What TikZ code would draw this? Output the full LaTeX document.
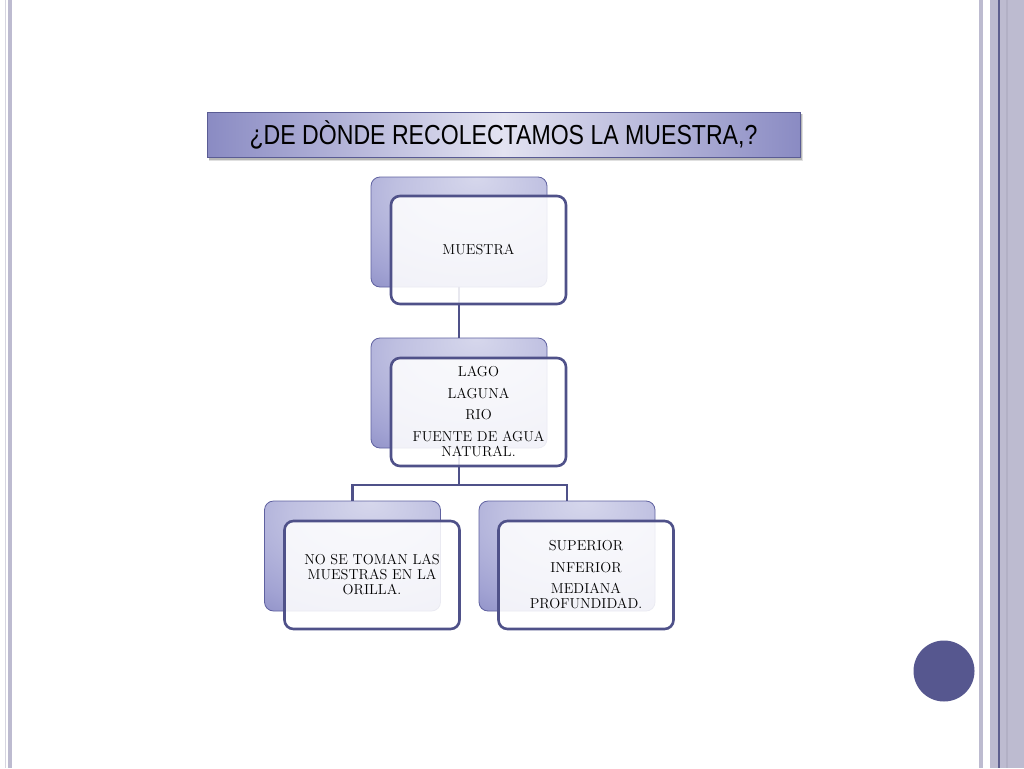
\documentclass[tikz,border=0pt]{standalone}
\usepackage{fontspec}
\newfontfamily\titlefont{Liberation Sans}
\usetikzlibrary{positioning}
\definecolor{barc}{HTML}{BDBBD0}
\definecolor{barl}{HTML}{D6D5E0}
\definecolor{bard}{HTML}{5E5F8E}
\definecolor{bardk}{HTML}{B2B0C5}
\definecolor{dotc}{HTML}{56578F}
\definecolor{frc}{HTML}{4F5189}
\definecolor{bbd}{HTML}{5F61A0}
\definecolor{bL}{HTML}{D6D7EC}
\definecolor{bM}{HTML}{A2A3D3}
\definecolor{bD}{HTML}{7577B6}
\definecolor{tEdge}{HTML}{8A8BC3}
\definecolor{tMid}{HTML}{E3E3F1}
\definecolor{tBd}{HTML}{5A5C94}
\pgfdeclareradialshading{backshade}{\pgfpoint{5bp}{25bp}}{color(0bp)=(bL); color(22bp)=(bL!55!bM); color(40bp)=(bM); color(62bp)=(bD); color(100bp)=(bD)}
\tikzset{
  backbox/.style={rectangle, rounded corners=9pt, minimum width=176pt, minimum height=110pt, draw=bbd, line width=0.8pt, shading=backshade},
  frontbox/.style={rectangle, rounded corners=9pt, minimum width=175pt, minimum height=108pt, draw=frc, line width=2.6pt, fill=white, fill opacity=0.87, text opacity=1, align=center, inner sep=2pt, font=\fontsize{14.4}{15}\selectfont},
  conn/.style={draw=frc, line width=2.8pt},
  titlebox/.style={rectangle, minimum width=593pt, minimum height=45pt, draw=tBd, line width=0.9pt, left color=tEdge, right color=tEdge, middle color=tMid, font=\titlefont\fontsize{27.5}{29}\selectfont},
}
\begin{document}
\begin{tikzpicture}[x=1pt,y=-1pt]
\useasboundingbox (0,0) rectangle (1024,768);
\fill[white] (0,0) rectangle (1024,768);
% side bars
\fill[barl] (5,0) rectangle (6.3,768);
\fill[barc] (7.5,0) rectangle (12,768);
\fill[barc] (979,0) rectangle (983,768);
\fill[barc] (990,0) rectangle (1024,768);
\fill[bardk] (1006,0) rectangle (1008,768);
\fill[bard] (998,0) rectangle (999.5,768);
% dot
\fill[dotc] (944,671) circle (30.5);
% title
\fill[black, opacity=0.12] (209,114) rectangle (803,161);
\fill[black, opacity=0.18] (209,114) rectangle (802,159.5);
\node[titlebox] (title) at (503.5,134.5) {\scalebox{0.84}[1]{¿DE DÒNDE RECOLECTAMOS LA MUESTRA,?}};
% back boxes
\node[backbox] (topb) at (459,232) {};
\node[backbox] (midb) at (459,393) {};
\node[backbox] (blb) at (352.5,556) {};
\node[backbox] (brb) at (567,556) {};
% connectors
\coordinate (j) at (459,485);
\draw[conn] (topb.south) -- (midb.north);
\draw[conn] (midb.south) -- (j);
\draw[conn] (blb.north) |- (j) -| (brb.north);
% front boxes
\node[frontbox] (topf) at (478.5,250) {MUESTRA};
\node[frontbox] (midf) at (478.5,412) {LAGO\\[7pt]LAGUNA\\[6pt]RIO\\[7pt]FUENTE DE AGUA\\NATURAL.};
\node[frontbox] (blf) at (372,575) {NO SE TOMAN LAS\\MUESTRAS EN LA\\ORILLA.};
\node[frontbox] (brf) at (586,575) {SUPERIOR\\[7pt]INFERIOR\\[6pt]MEDIANA\\PROFUNDIDAD.};
\end{tikzpicture}
\end{document}
